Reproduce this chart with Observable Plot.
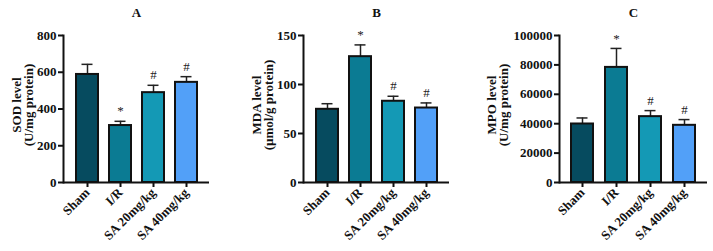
<!DOCTYPE html>
<html>
<head>
<meta charset="utf-8">
<script src="https://cdn.jsdelivr.net/npm/d3@7"></script>
<script src="https://cdn.jsdelivr.net/npm/@observablehq/plot@0.6"></script>
<style>
  html, body { margin: 0; padding: 0; background: #fff; }
  #wrap { position: relative; width: 713px; height: 251px; overflow: hidden; }
  #wrap svg { position: absolute; top: 0; }
</style>
</head>
<body>
<div id="wrap"></div>
<script>
const groups = ["Sham", "I/R", "SA 20mg/kg", "SA 40mg/kg"];
const colors = ["#064b5f", "#0b7b93", "#1499b5", "#52a0f8"];
const signs = ["", "*", "#", "#"];

const sodMean = [588, 310, 489, 545];
const sodErr = [55, 23, 40, 31];
const sodTicks = [0, 200, 400, 600, 800];

const mdaMean = [74.7, 128.4, 82.9, 76.0];
const mdaErr = [5.7, 12.0, 5.1, 5.2];
const mdaTicks = [0, 50, 100, 150];

const mpoMean = [39800, 78300, 44800, 38900];
const mpoErr = [4100, 12900, 4100, 3900];
const mpoTicks = [0, 20000, 40000, 60000, 80000, 100000];

const panels = [
  {title: "A", label: "SOD level\n(U/mg protein)", mean: sodMean, err: sodErr, ticks: sodTicks,
   left: 0, width: 230, ml: 63, mr: 21, ldx: -40},
  {title: "B", label: "MDA level\n(\u00b5mol/g protein)", mean: mdaMean, err: mdaErr, ticks: mdaTicks,
   left: 240, width: 230, ml: 63, mr: 21, ldx: -40},
  {title: "C", label: "MPO level\n(U/mg protein)", mean: mpoMean, err: mpoErr, ticks: mpoTicks,
   left: 480, width: 233, ml: 79, mr: 6, ldx: -61}
];

const wrap = document.getElementById("wrap");
for (const p of panels) {
  const data = groups.map((g, i) => ({group: g, mean: p.mean[i], top: p.mean[i] + p.err[i], sig: signs[i]}));
  const ymax = p.ticks[p.ticks.length - 1];
  const chart = Plot.plot({
    width: p.width,
    height: 251,
    marginLeft: p.ml,
    marginRight: p.mr,
    marginTop: 35,
    marginBottom: 69,
    style: {fontFamily: "'Liberation Serif', 'Times New Roman', serif", fontSize: "13px", fontWeight: "bold", color: "#111", background: "transparent"},
    x: {domain: groups, padding: 0.34, label: null},
    y: {domain: [0, ymax], label: null},
    color: {domain: groups, range: colors},
    marks: [
      Plot.ruleX(data, {x: "group", y1: "mean", y2: "top", stroke: "#222", strokeWidth: 1.5}),
      Plot.tickY(data, {x: "group", y: "top", stroke: "#222", strokeWidth: 1.5, inset: 5.5}),
      Plot.barY(data, {x: "group", y: "mean", fill: "group", stroke: "#111", strokeWidth: 2}),
      Plot.text(data, {x: "group", y: "top", text: "sig", dy: -10, fontWeight: "normal", fontSize: 13, fill: "#222"}),
      Plot.axisY({ticks: p.ticks, tickFormat: d => String(d), tickSize: 5, strokeWidth: 2, tickPadding: 2, label: null, fontSize: 13}),
      Plot.axisX({tickRotate: -45, tickSize: 5, strokeWidth: 2, tickPadding: 3, label: null, fontSize: 13}),
      Plot.frame({anchor: "left", stroke: "#111", strokeWidth: 2}),
      Plot.ruleY([0], {stroke: "#111", strokeWidth: 2}),
      Plot.text([p.title], {frameAnchor: "top", dy: -23, lineAnchor: "middle", fontWeight: "bold", fontSize: 13}),
      Plot.text([p.label], {frameAnchor: "left", rotate: -90, dx: p.ldx, dy: -4, lineAnchor: "middle", textAnchor: "middle", lineHeight: 0.9, fontWeight: "bold", fontSize: 13})
    ]
  });
  chart.style.left = p.left + "px";
  wrap.appendChild(chart);
}
</script>
</body>
</html>
